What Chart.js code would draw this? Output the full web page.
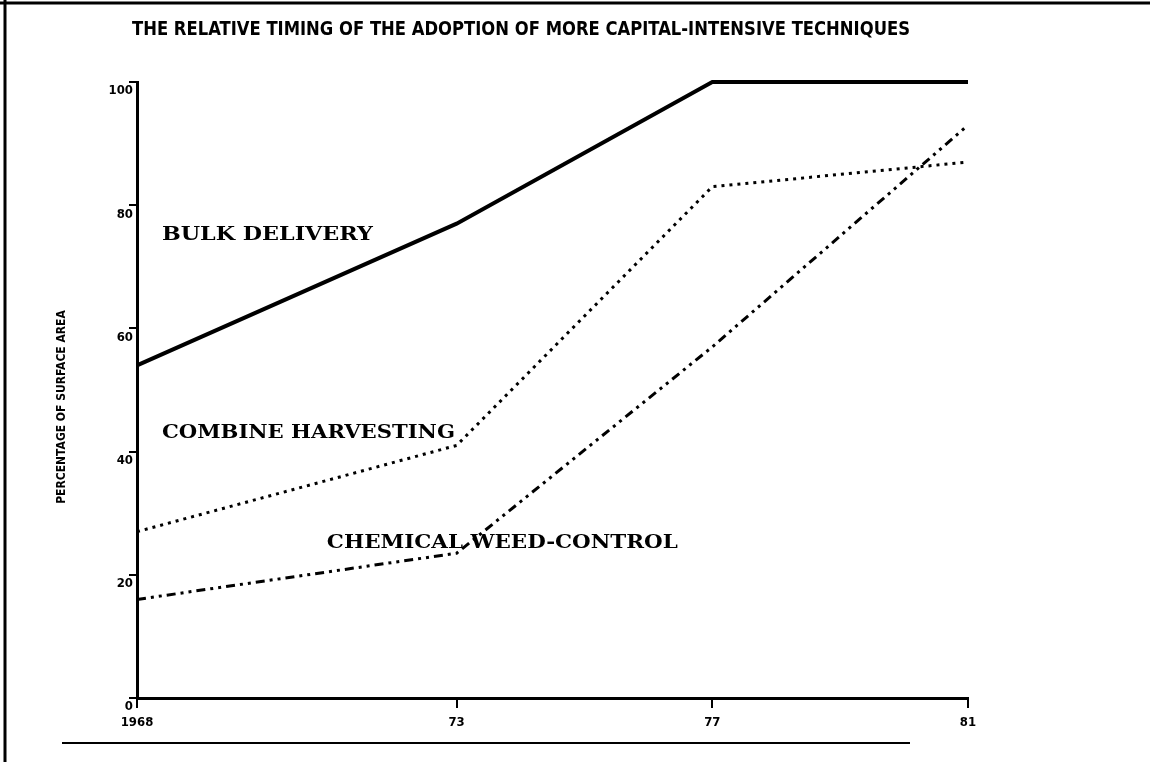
<!DOCTYPE html>
<html lang="en">
<head>
<meta charset="UTF-8">
<title>Adoption of capital-intensive techniques</title>
<script src="https://cdn.jsdelivr.net/npm/chart.js"></script>
<style>
  html, body { margin: 0; padding: 0; background: #fff; }
  #wrap { width: 1150px; height: 762px; position: relative; }
</style>
</head>
<body>
<div id="wrap"><canvas id="chart"></canvas></div>
<script>
// data
const years = [1968, 1973, 1977, 1981];
const yearLabels = ['1968', '73', '77', '81'];
const bulkDelivery = [54, 77, 100, 100];
const combineHarvesting = [27, 41, 83, 87];
const weedControl = [16, 23.5, 57, 93];

const chartTitle = 'THE RELATIVE TIMING OF THE ADOPTION OF MORE CAPITAL-INTENSIVE TECHNIQUES';
const yTitle = 'PERCENTAGE OF SURFACE AREA';

// series labels written on the plot, anchored in data units
const seriesLabels = [
  { text: 'BULK DELIVERY', x: 1968.39, y: 75.2, w: 211 },
  { text: 'COMBINE HARVESTING', x: 1968.39, y: 43, w: 293 },
  { text: 'CHEMICAL WEED-CONTROL', x: 1970.97, y: 25.2, w: 351 }
];

const condensed = "'DejaVu Sans Condensed', 'Liberation Sans Narrow', 'DejaVu Sans', sans-serif";

function pts(vals) {
  return years.map((y, i) => ({ x: y, y: vals[i] }));
}

// draw text squeezed/stretched to a given width
function fitText(ctx, text, x, y, width) {
  const m = ctx.measureText(text).width;
  ctx.save();
  ctx.translate(x, y);
  ctx.scale(width / m, 1);
  ctx.fillText(text, 0, 0);
  ctx.restore();
}

const paperPlugin = {
  id: 'paper',
  afterDraw(chart) {
    const ctx = chart.ctx;
    const area = chart.chartArea;
    const sx = chart.scales.x, sy = chart.scales.y;
    ctx.save();
    ctx.fillStyle = '#000';
    ctx.strokeStyle = '#000';

    // frame of the scanned page
    ctx.lineWidth = 3;
    ctx.beginPath();
    ctx.moveTo(0, 3); ctx.lineTo(1150, 3);
    ctx.moveTo(5, 0); ctx.lineTo(5, 762);
    ctx.stroke();
    ctx.lineWidth = 2;
    ctx.beginPath();
    ctx.moveTo(62, 743); ctx.lineTo(910, 743);
    ctx.stroke();

    // title
    ctx.font = 'bold 19px ' + condensed;
    ctx.textBaseline = 'middle';
    ctx.textAlign = 'left';
    fitText(ctx, chartTitle, area.left - 5, 30, 778);

    // series names
    ctx.font = 'bold 19px "DejaVu Serif", "Liberation Serif", serif';
    seriesLabels.forEach(l => {
      fitText(ctx, l.text, sx.getPixelForValue(l.x), sy.getPixelForValue(l.y), l.w);
    });

    // y axis title
    ctx.font = 'bold 12px ' + condensed;
    ctx.translate(62, 407);
    ctx.rotate(-Math.PI / 2);
    ctx.textAlign = 'center';
    ctx.fillText(yTitle, 0, 0);
    ctx.restore();
  }
};

new Chart(document.getElementById('chart'), {
  type: 'line',
  data: {
    datasets: [
      {
        label: 'Bulk delivery',
        data: pts(bulkDelivery),
        borderColor: '#000',
        borderWidth: 4,
        pointRadius: 0,
        tension: 0,
        clip: 6
      },
      {
        label: 'Combine harvesting',
        data: pts(combineHarvesting),
        borderColor: '#000',
        borderWidth: 3,
        borderDash: [3, 5],
        pointRadius: 0,
        tension: 0,
        clip: 6
      },
      {
        label: 'Chemical weed-control',
        data: pts(weedControl),
        borderColor: '#000',
        borderWidth: 3,
        borderDash: [9, 5, 3, 5, 3, 5],
        pointRadius: 0,
        tension: 0,
        clip: 6
      }
    ]
  },
  options: {
    responsive: true,
    maintainAspectRatio: false,
    animation: false,
    layout: { padding: { left: 0, right: 182, top: 82, bottom: 0 } },
    plugins: {
      legend: { display: false },
      title: { display: false },
      tooltip: { enabled: false }
    },
    scales: {
      x: {
        type: 'linear',
        min: years[0],
        max: years[years.length - 1],
        afterBuildTicks(scale) {
          scale.ticks = years.map(v => ({ value: v }));
        },
        afterFit(scale) { scale.height = 64; },
        ticks: {
          callback: (v) => yearLabels[years.indexOf(v)],
          color: '#000',
          font: { family: condensed, size: 13, weight: 'bold' },
          padding: 7,
          maxRotation: 0,
          autoSkip: false
        },
        grid: { drawOnChartArea: false, tickLength: 10, color: '#000', lineWidth: 2 },
        border: { display: true, color: '#000', width: 3 }
      },
      y: {
        min: 0,
        max: 100,
        afterFit(scale) { scale.width = 137; },
        ticks: {
          stepSize: 20,
          color: '#000',
          font: { family: condensed, size: 13, weight: 'bold' },
          padding: -4,
          labelOffset: 9
        },
        grid: { drawOnChartArea: false, tickLength: 8, color: '#000', lineWidth: 2 },
        border: { display: true, color: '#000', width: 3 }
      }
    }
  },
  plugins: [paperPlugin]
});
</script>
</body>
</html>
